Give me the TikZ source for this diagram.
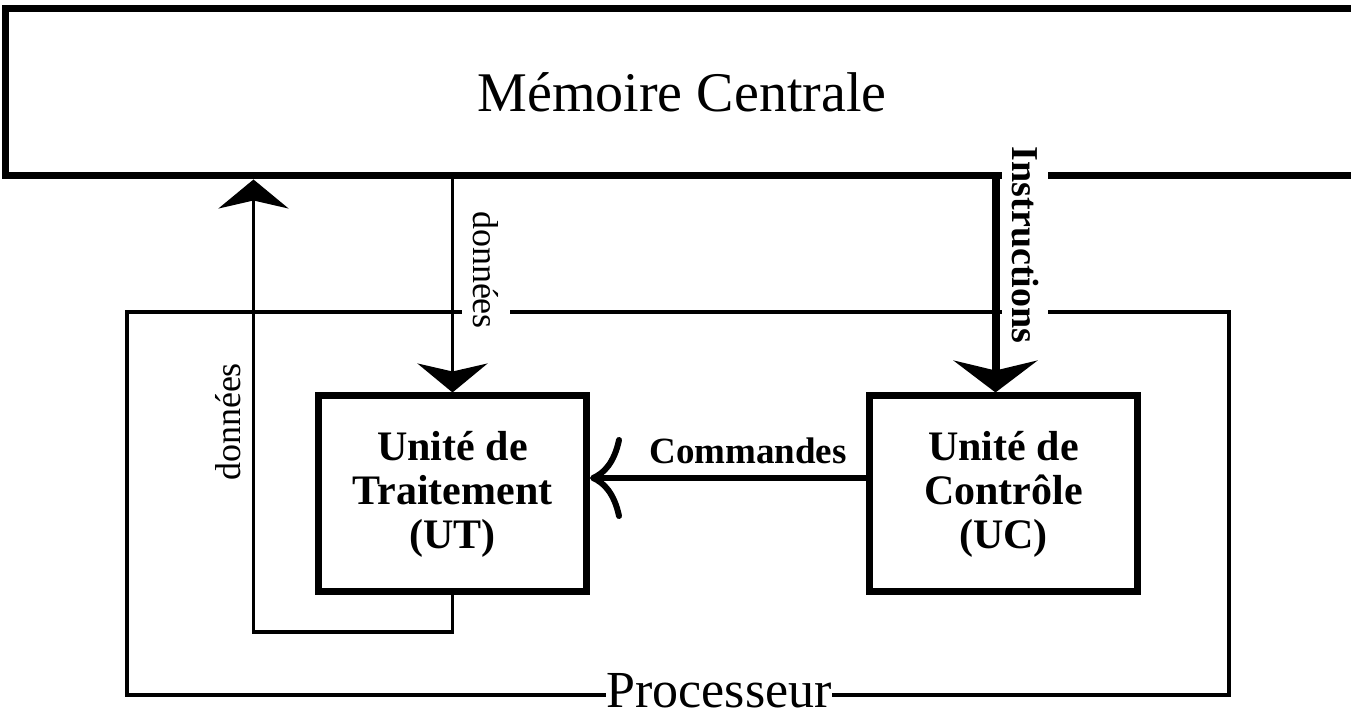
\documentclass[tikz,border=0pt]{standalone}
\usepackage{fontspec}
\setmainfont{Liberation Serif}
\usetikzlibrary{arrows.meta}

\begin{document}
\begin{tikzpicture}[x=0.5pt, y=-0.5pt,
  bloc/.style={draw=black, line width=3.5pt, rectangle, inner sep=0pt},
  unite/.style={bloc, minimum width=134pt, minimum height=98pt, align=center, font=\fontsize{21}{22}\selectfont\bfseries},
  titre/.style={font=\fontsize{28}{30}\selectfont},
  etiquette/.style={font=\fontsize{18}{20}\selectfont, inner sep=0pt},
  donnee/.style={-{Stealth[length=14.5pt, width=35pt, inset=4pt]}, line width=1.75pt},
  instruction/.style={-{Stealth[length=16pt, width=42pt, inset=5pt]}, line width=4pt},
  commande/.style={-{Computer Modern Rightarrow[length=16pt, width=41pt, line width=3pt]}, line width=3pt}]
\fill[white] (0,0) rectangle (1351,715);
\clip (0,0) rectangle (1351,715);
% processeur et memoire
\node[draw=black, line width=2pt, minimum width=551pt, minimum height=191.5pt, inner sep=0pt] (proc) at (678,503.5) {};
\node[bloc, titre, minimum width=676.5pt, minimum height=83.75pt] (MC) at (682,92.25) {Mémoire Centrale};
% les deux unites
\node[unite] (UT) at (452.5,494) {Unité de\\Traitement\\(UT)};
\node[unite] (UC) at (1003.5,494) {Unité de\\Contrôle\\(UC)};
\coordinate (instr) at (995.5,396);
\coordinate (retour) at (253.5,632);
\coordinate (cmd) at (740,478);
% connexions
\draw[donnee] (UT.north |- MC.south) -- (UT.north);
\draw[instruction] (instr |- MC.south) -- (instr |- UC.north);
\draw[donnee] (UT.south) |- (retour) -- (retour |- MC.south);
\draw[commande] (cmd -| UC.west) -- (cmd -| UT.east);
% textes
\node[etiquette, rotate=-90, fill=white, inner ysep=5.5pt] (don-bas) at (486,270) {données};
\node[etiquette, rotate=90] (don-haut) at (228,422) {données};
\node[rotate=-90, fill=white, font=\fontsize{19}{20}\selectfont\bfseries, inner xsep=0pt, inner ysep=5pt] (lbl-instr) at (1025,245) {Instructions};
\node[font=\fontsize{18.5}{20}\selectfont\bfseries] (lbl-cmd) at (748,451) {Commandes};
\node[font=\fontsize{26}{28}\selectfont, fill=white, inner xsep=0pt, inner ysep=0pt] (lbl-proc) at ([xshift=20.5pt, yshift=3pt]proc.south) {Processeur};
\end{tikzpicture}
\end{document}
